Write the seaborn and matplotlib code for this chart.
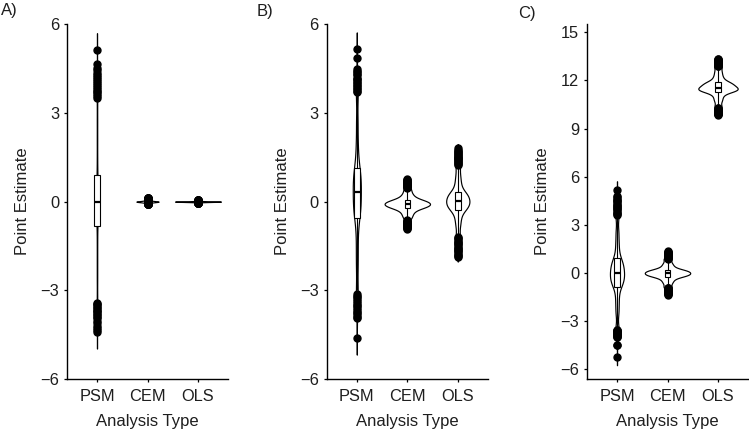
import numpy as np
import pandas as pd
import matplotlib
matplotlib.use("Agg")
import matplotlib.pyplot as plt
import seaborn as sns

sns.set_theme(style="ticks")
plt.rcParams['font.family'] = ['Liberation Sans', 'DejaVu Sans']
plt.rcParams['axes.unicode_minus'] = True

# ---------------- data ----------------
CATEGORIES = ["PSM", "CEM", "OLS"]
PANEL_LABELS = ["A)", "B)", "C)"]
Y_TICKS_AB = [-6, -3, 0, 3, 6]
Y_TICKS_C = [-6, -3, 0, 3, 6, 9, 12, 15]
X_LABEL = "Analysis Type"
Y_LABEL = "Point Estimate"
CORE_COUNT = 20  # number of estimates represented by each core quantile value

# Panel A
a_psm_core = [-3.35, -2.6, -2.0, -1.4, -0.81, -0.62, -0.45, -0.3, -0.18, -0.08, 0.0,
              0.09, 0.2, 0.34, 0.5, 0.7, 0.91, 1.45, 2.1, 2.75, 3.45]
a_psm_hi = [3.52, 3.58, 3.64, 3.7, 3.76, 3.82, 3.88, 3.94, 4.0, 4.07, 4.14, 4.21,
            4.28, 4.36, 4.44, 4.53, 4.64, 5.13]
a_psm_lo = [-3.42, -3.46, -3.5, -3.55, -3.6, -3.65, -3.7, -3.75, -3.8, -3.85, -3.9,
            -3.95, -4.05, -4.12, -4.2, -4.28, -4.35, -4.4]
a_cem_core = [-0.045, -0.036, -0.028, -0.02, -0.012, -0.01, -0.008, -0.006, -0.004, -0.002, 0.0,
              0.002, 0.004, 0.006, 0.008, 0.01, 0.012, 0.02, 0.028, 0.036, 0.045]
a_cem_hi = [0.05, 0.056, 0.062, 0.068, 0.074, 0.08, 0.086, 0.092, 0.098, 0.104, 0.11,
            0.116, 0.122, 0.128, 0.134, 0.14]
a_cem_lo = [-0.05, -0.053, -0.056, -0.059, -0.062, -0.065, -0.068, -0.071, -0.074, -0.077,
            -0.08, -0.083, -0.086, -0.089, -0.092, -0.095]
a_ols_core = [-0.018, -0.014, -0.011, -0.008, -0.005, -0.004, -0.003, -0.002, -0.0015, -0.001, 0.0,
              0.001, 0.0015, 0.002, 0.003, 0.004, 0.005, 0.008, 0.011, 0.014, 0.018]
a_ols_hi = [0.022, 0.024, 0.026, 0.028, 0.03, 0.032, 0.034, 0.036, 0.038, 0.04, 0.042,
            0.044, 0.046, 0.048, 0.05, 0.052]
a_ols_lo = [-0.022, -0.024, -0.026, -0.028, -0.03, -0.032, -0.034, -0.036, -0.038, -0.039,
            -0.04, -0.041, -0.042, -0.043, -0.044, -0.045]

# Panel B
b_psm_core = [-3.0, -2.2, -1.6, -1.0, -0.55, -0.41, -0.26, -0.12, 0.02, 0.17, 0.31,
              0.45, 0.59, 0.72, 0.86, 1.0, 1.14, 1.5, 2.0, 2.7, 3.6]
b_psm_hi = [3.72, 3.76, 3.8, 3.85, 3.9, 3.95, 4.0, 4.05, 4.1, 4.15, 4.2, 4.28, 4.33,
            4.38, 4.43, 4.48, 4.86, 5.15]
b_psm_lo = [-3.12, -3.18, -3.24, -3.3, -3.36, -3.42, -3.48, -3.54, -3.6, -3.66, -3.72,
            -3.78, -3.84, -3.9, -3.95, -4.6]
b_cem_core = [-0.55, -0.44, -0.35, -0.27, -0.21, -0.188, -0.167, -0.145, -0.123, -0.102, -0.08,
              -0.058, -0.037, -0.015, 0.007, 0.028, 0.05, 0.11, 0.19, 0.28, 0.42]
b_cem_hi = [0.46, 0.48, 0.5, 0.52, 0.54, 0.56, 0.58, 0.6, 0.62, 0.64, 0.66, 0.68, 0.7,
            0.72, 0.74, 0.76]
b_cem_lo = [-0.62, -0.64, -0.66, -0.68, -0.7, -0.72, -0.74, -0.76, -0.78, -0.8, -0.82,
            -0.84, -0.86, -0.88, -0.9, -0.93]
b_ols_core = [-1.15, -0.82, -0.6, -0.42, -0.27, -0.222, -0.173, -0.125, -0.077, -0.028, 0.02,
              0.072, 0.123, 0.175, 0.227, 0.278, 0.33, 0.5, 0.68, 0.9, 1.2]
b_ols_hi = [1.25, 1.28, 1.31, 1.34, 1.37, 1.4, 1.43, 1.46, 1.49, 1.52, 1.55, 1.58, 1.61,
            1.64, 1.67, 1.7, 1.74, 1.8]
b_ols_lo = [-1.2, -1.24, -1.28, -1.32, -1.36, -1.4, -1.44, -1.48, -1.52, -1.56, -1.6,
            -1.64, -1.68, -1.72, -1.76, -1.8, -1.84, -1.88]

# Panel C
c_psm_core = [-3.45, -2.5, -1.9, -1.35, -0.85, -0.69, -0.54, -0.4, -0.26, -0.13, 0.0,
              0.14, 0.28, 0.43, 0.58, 0.75, 0.92, 1.4, 1.95, 2.6, 3.5]
c_psm_hi = [3.62, 3.69, 3.76, 3.83, 3.9, 3.97, 4.04, 4.11, 4.18, 4.25, 4.32, 4.4, 4.48,
            4.56, 4.64, 4.72, 4.82, 5.18]
c_psm_lo = [-3.52, -3.56, -3.6, -3.64, -3.68, -3.72, -3.76, -3.8, -3.84, -3.88, -3.92,
            -3.96, -4.0, -4.48, -4.5, -5.2]
c_cem_core = [-0.85, -0.62, -0.46, -0.33, -0.22, -0.183, -0.147, -0.11, -0.073, -0.037, 0.0,
              0.037, 0.073, 0.11, 0.147, 0.183, 0.22, 0.33, 0.46, 0.62, 0.86]
c_cem_hi = [0.9, 0.93, 0.96, 0.99, 1.02, 1.05, 1.08, 1.11, 1.14, 1.17, 1.2, 1.23, 1.26,
            1.29, 1.32, 1.35]
c_cem_lo = [-0.9, -0.93, -0.96, -0.99, -1.02, -1.05, -1.08, -1.11, -1.14, -1.17, -1.2,
            -1.23, -1.26, -1.29, -1.32, -1.36]
c_ols_core = [10.4, 10.72, 10.95, 11.15, 11.3, 11.342, 11.383, 11.425, 11.467, 11.508, 11.55,
              11.613, 11.677, 11.74, 11.803, 11.867, 11.93, 12.1, 12.3, 12.55, 12.85]
c_ols_hi = [12.9, 12.93, 12.96, 12.99, 13.02, 13.05, 13.08, 13.11, 13.14, 13.17, 13.2,
            13.23, 13.26, 13.29, 13.32, 13.35]
c_ols_lo = [10.3, 10.27, 10.24, 10.21, 10.18, 10.15, 10.12, 10.09, 10.06, 10.03, 10.0,
            9.97, 9.94, 9.91, 9.88, 9.85]

panels = [
    {"PSM": (a_psm_core, a_psm_lo, a_psm_hi),
     "CEM": (a_cem_core, a_cem_lo, a_cem_hi),
     "OLS": (a_ols_core, a_ols_lo, a_ols_hi)},
    {"PSM": (b_psm_core, b_psm_lo, b_psm_hi),
     "CEM": (b_cem_core, b_cem_lo, b_cem_hi),
     "OLS": (b_ols_core, b_ols_lo, b_ols_hi)},
    {"PSM": (c_psm_core, c_psm_lo, c_psm_hi),
     "CEM": (c_cem_core, c_cem_lo, c_cem_hi),
     "OLS": (c_ols_core, c_ols_lo, c_ols_hi)},
]

# ---------------- styling ----------------
# violin (width, kernel bandwidth in data units, cut)
violin_style = [
    {"PSM": (0.04, 0.30, 1.9), "CEM": (0.44, 0.015, 1.0), "OLS": (0.91, 0.008, 1.0)},
    {"PSM": (0.16, 0.36, 1.6), "CEM": (0.90, 0.09, 0.8), "OLS": (0.46, 0.16, 0.9)},
    {"PSM": (0.28, 0.36, 1.5), "CEM": (0.90, 0.12, 0.7), "OLS": (0.78, 0.15, 0.7)},
]
ylims = [(-6, 6), (-6, 6), (-6.6, 15.5)]
yticks = [Y_TICKS_AB, Y_TICKS_AB, Y_TICKS_C]

W, H = 749, 430
fig = plt.figure(figsize=(W / 100, H / 100), dpi=100)
lefts_px = [66.7, 326.5, 586.7]
ax_w = 161.6 / W
ax_b = (H - 379) / H
ax_h = (379 - 24.3) / H
label_pos = [(0.5, 15.5), (257, 16), (518, 18)]
text_color = "#1e1e1e"

for i, pdata in enumerate(panels):
    ax = fig.add_axes([lefts_px[i] / W, ax_b, ax_w, ax_h])
    frames = []
    for cat in CATEGORIES:
        core, lo, hi = pdata[cat]
        vals = np.concatenate([np.repeat(core, CORE_COUNT), lo, hi])
        frames.append(pd.DataFrame({"type": cat, "value": vals}))
    df = pd.concat(frames, ignore_index=True)

    for cat in CATEGORIES:
        sub = df[df["type"] == cat]
        w, bw, cut = violin_style[i][cat]
        sd = sub["value"].std()
        sns.violinplot(data=sub, x="type", y="value", order=CATEGORIES,
                       width=w, density_norm="width", inner=None, cut=cut,
                       bw_method=bw / sd, color="white", linecolor="black",
                       linewidth=0.85, saturation=1, ax=ax)

    sns.boxplot(data=df, x="type", y="value", order=CATEGORIES, width=0.11,
                color="white", linecolor="black", linewidth=0.8, saturation=1,
                whis=1.5,
                flierprops=dict(marker="o", markerfacecolor="black",
                                markeredgecolor="black", markersize=5),
                medianprops=dict(color="black", linewidth=1.6),
                capprops=dict(linewidth=0), ax=ax)

    ax.set_xlim(-0.6, 2.6)
    ax.set_ylim(*ylims[i])
    ax.set_yticks(yticks[i])
    ax.set_yticklabels([f"{t}".replace("-", "\u2212") for t in yticks[i]])
    ax.set_xticks(range(len(CATEGORIES)))
    ax.set_xticklabels(CATEGORIES)
    for s in ["top", "right"]:
        ax.spines[s].set_visible(False)
    for s in ["left", "bottom"]:
        ax.spines[s].set_linewidth(1.0)
        ax.spines[s].set_color("black")
    ax.tick_params(direction="out", length=2.5, width=0.9, colors="black",
                   labelsize=11.8, labelcolor=text_color, pad=3)
    ax.tick_params(axis="x", pad=5)
    ax.set_xlabel(X_LABEL, fontsize=12, color=text_color, labelpad=7)
    ax.set_ylabel(Y_LABEL, fontsize=12, color=text_color, labelpad=7)
    ax.set_facecolor("white")
    fig.text(label_pos[i][0] / W, 1 - label_pos[i][1] / H, PANEL_LABELS[i],
             fontsize=12, color=text_color, ha="left", va="baseline")

fig.savefig("out.png", dpi=100, facecolor="white")
